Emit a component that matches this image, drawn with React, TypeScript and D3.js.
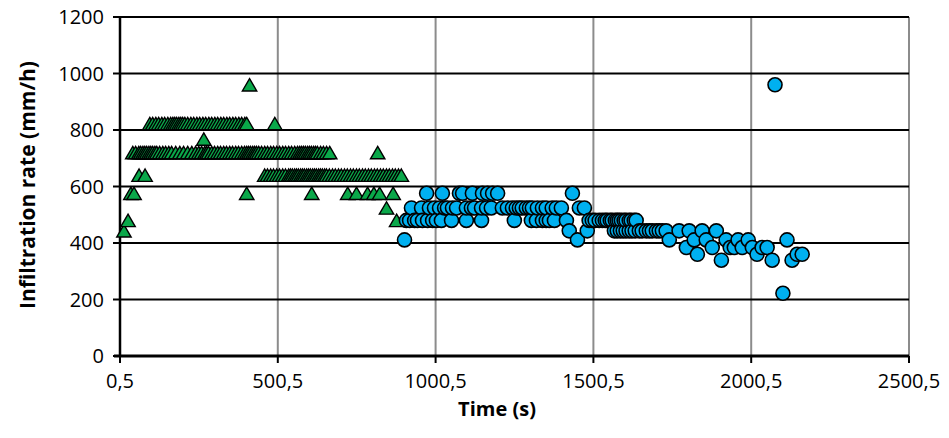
import React from 'react';
import * as d3 from 'd3';

const X_TICKS = [0.5, 500.5, 1000.5, 1500.5, 2000.5, 2500.5];
const Y_TICKS = [0, 200, 400, 600, 800, 1000, 1200];

// Green triangles: rate levels (mm/h) and the times (s) at each level
const TRI_LEVELS = [443, 480, 524, 576, 640, 720, 768, 823, 960];
const TRI_TIMES = [
  [13],
  [26, 877],
  [845],
  [35, 45, 402, 608, 722, 750, 785, 805, 823, 866],
  [61, 80, 459, 468, 478, 487, 497, 506, 516, 525, 535, 541, 547, 554, 560, 566, 573, 579, 585, 592, 598, 604, 611, 617, 623, 630, 636, 642, 649, 655, 664, 674, 683, 693, 702, 712, 721, 731, 740, 750, 759, 769, 778, 788, 797, 807, 816, 826, 835, 845, 854, 864, 873, 883, 892],
  [41, 50, 60, 66, 73, 79, 85, 92, 98, 104, 111, 117, 126, 136, 145, 155, 164, 177, 190, 202, 215, 228, 240, 250, 259, 269, 275, 281, 291, 300, 310, 319, 329, 338, 348, 357, 367, 376, 386, 395, 402, 408, 414, 421, 427, 433, 440, 449, 459, 468, 478, 487, 497, 506, 516, 525, 535, 544, 554, 563, 570, 576, 582, 588, 595, 601, 607, 614, 620, 626, 636, 645, 655, 665, 817],
  [266],
  [95, 104, 114, 123, 133, 142, 152, 161, 168, 174, 180, 187, 193, 199, 206, 215, 225, 234, 244, 253, 263, 272, 282, 291, 301, 310, 320, 329, 339, 348, 358, 367, 377, 386, 396, 402, 491],
  [411],
];

// Blue circles: rate levels (mm/h) and the times (s) at each level
const CIR_LEVELS = [222, 339, 360, 384, 411, 443, 480, 524, 576, 960];
const CIR_TIMES = [
  [2101],
  [1906, 2067, 2130],
  [1830, 2019, 2146, 2162],
  [1795, 1877, 1934, 1947, 1972, 2004, 2035, 2051],
  [902, 1450, 1741, 1820, 1858, 1921, 1959, 1991, 2114],
  [1424, 1481, 1567, 1576, 1586, 1595, 1604, 1614, 1623, 1633, 1646, 1655, 1668, 1678, 1687, 1700, 1709, 1719, 1731, 1772, 1804, 1845, 1890],
  [908, 918, 934, 943, 959, 975, 991, 1003, 1019, 1051, 1098, 1146, 1250, 1304, 1320, 1339, 1351, 1361, 1377, 1415, 1487, 1497, 1506, 1519, 1529, 1538, 1544, 1554, 1560, 1570, 1576, 1582, 1589, 1598, 1604, 1614, 1620, 1630, 1636],
  [924, 956, 981, 997, 1013, 1029, 1038, 1054, 1067, 1098, 1114, 1124, 1146, 1162, 1177, 1212, 1228, 1244, 1256, 1266, 1275, 1288, 1298, 1307, 1323, 1339, 1351, 1370, 1383, 1399, 1456, 1472],
  [972, 1022, 1076, 1086, 1117, 1149, 1165, 1181, 1197, 1434],
  [2076],
];

const X_TITLE = 'Time (s)';
const Y_TITLE = 'Infiltration rate (mm/h)';

function flatten(levels: number[], times: number[][]) {
  const pts: { t: number; v: number }[] = [];
  levels.forEach((v, i) => times[i].forEach((t) => pts.push({ t, v })));
  return pts.sort((a, b) => a.t - b.t);
}

export default function App() {
  const W = 949, H = 438;
  const left = 120, right = 909, top = 17, bottom = 356;
  const x = d3.scaleLinear().domain([0.5, 2500.5]).range([left, right]);
  const y = d3.scaleLinear().domain([0, 1200]).range([bottom, top]);
  const tri = flatten(TRI_LEVELS, TRI_TIMES);
  const cir = flatten(CIR_LEVELS, CIR_TIMES);
  const tw = 7.2, th = 6.2;
  const triPath = `M0,${-th}L${tw},${th}L${-tw},${th}Z`;
  const font = "'Open Sans', 'Liberation Sans', sans-serif";
  const fmt = (v: number) => String(v).replace('.', ',');

  return (
    <svg width={W} height={H} style={{ position: 'absolute', left: 0, top: 0, background: '#fff' }}>
      {X_TICKS.slice(1).map((t) => (
        <line key={'vx' + t} x1={x(t)} x2={x(t)} y1={top} y2={bottom} stroke="#8c8c8c" strokeWidth={2} />
      ))}
      {Y_TICKS.slice(1).map((t) => (
        <line key={'hy' + t} x1={left} x2={right} y1={y(t)} y2={y(t)} stroke="#000" strokeWidth={2} />
      ))}
      <line x1={left} x2={left} y1={top - 1} y2={bottom} stroke="#000" strokeWidth={2.5} />
      <line x1={left - 6} x2={right} y1={bottom} y2={bottom} stroke="#000" strokeWidth={3} />
      {Y_TICKS.map((t) => (
        <line key={'yt' + t} x1={left - 7} x2={left} y1={y(t)} y2={y(t)} stroke="#000" strokeWidth={2} />
      ))}
      {X_TICKS.map((t) => (
        <line key={'xt' + t} x1={x(t)} x2={x(t)} y1={bottom} y2={bottom + 7} stroke="#000" strokeWidth={2} />
      ))}
      {Y_TICKS.map((t) => (
        <text key={'yl' + t} x={104} y={y(t)} dy="0.36em" textAnchor="end" fontFamily={font} fontSize={20} fill="#000">
          {t}
        </text>
      ))}
      {X_TICKS.map((t) => (
        <text key={'xl' + t} x={x(t)} y={388} textAnchor="middle" fontFamily={font} fontSize={20} fill="#000">
          {fmt(t)}
        </text>
      ))}
      <text x={497} y={416} textAnchor="middle" fontFamily={font} fontSize={20} fontWeight="bold" fill="#000">
        {X_TITLE}
      </text>
      <text transform={`translate(35,${185}) rotate(-90)`} textAnchor="middle" fontFamily={font} fontSize={21} fontWeight="bold" fill="#000">
        {Y_TITLE}
      </text>
      {tri.map((p, i) => (
        <path key={'tr' + i} d={triPath} transform={`translate(${x(p.t)},${y(p.v)})`} fill="#0aa84a" stroke="#000" strokeWidth={1.4} strokeLinejoin="miter" />
      ))}
      {cir.map((p, i) => (
        <circle key={'ci' + i} cx={x(p.t)} cy={y(p.v)} r={7} fill="#00b0f0" stroke="#000" strokeWidth={1.6} />
      ))}
    </svg>
  );
}
